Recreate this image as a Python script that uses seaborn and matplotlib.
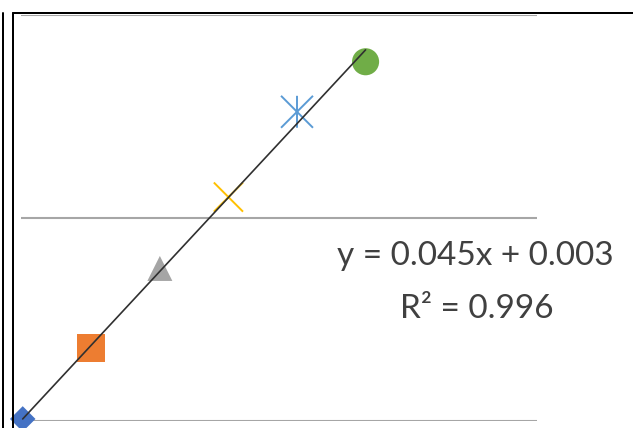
import numpy as np
import pandas as pd
import matplotlib
matplotlib.use("Agg")
import matplotlib.pyplot as plt
from matplotlib.lines import Line2D
from matplotlib.path import Path
import seaborn as sns

# Standards: concentration vs. absorbance
concentration = [0.0, 0.4, 0.8, 1.2, 1.6, 2.0]
absorbance = [0.003, 0.0203, 0.0397, 0.0571, 0.0779, 0.0901]
point_colors = ["#4472C4", "#ED7D31", "#A5A5A5", "#FFC000", "#5B9BD5", "#70AD47"]

# Linear trendline as stated in the label
slope = 0.045
intercept = 0.003
r_squared = 0.996
equation_lines = [f"y = {slope:.3f}x + {intercept:.3f}", f"R\u00b2 = {r_squared:.3f}"]

# Excel-style line markers: a plain X, and an asterisk (vertical bar plus an X)
cross = Path(
    [(-1, -1), (1, 1), (-1, 1), (1, -1)],
    [Path.MOVETO, Path.LINETO, Path.MOVETO, Path.LINETO],
)
asterisk = Path(
    [(0, -1), (0, 1), (-1, -1), (1, 1), (-1, 1), (1, -1)],
    [Path.MOVETO, Path.LINETO, Path.MOVETO, Path.LINETO, Path.MOVETO, Path.LINETO],
)
markers = ["D", "s", "^", cross, asterisk, "o"]
marker_sizes = [13, 20, 18, 21, 23, 19.5]
line_markers = [False, False, False, True, True, False]

sns.set_theme(style="white")

W, H = 633, 428
fig = plt.figure(figsize=(W / 100, H / 100), dpi=100)
ax = fig.add_axes([21 / W, (H - 421) / H, (537 - 21) / W, (421 - 15) / H])

df = pd.DataFrame({"concentration": concentration, "absorbance": absorbance})

for i, row in df.iterrows():
    if line_markers[i]:
        sns.scatterplot(x=[row.concentration], y=[row.absorbance], ax=ax,
                        marker=markers[i], s=marker_sizes[i] ** 2,
                        color=point_colors[i], facecolor="none",
                        edgecolor=point_colors[i], linewidth=1.4, zorder=3,
                        clip_on=False, legend=False)
    else:
        sns.scatterplot(x=[row.concentration], y=[row.absorbance], ax=ax,
                        marker=markers[i], s=marker_sizes[i] ** 2,
                        color=point_colors[i], edgecolor="none", linewidth=0,
                        zorder=3, clip_on=False, legend=False)

trend_x = np.array([min(concentration), max(concentration)])
trend_y = slope * trend_x + intercept
sns.lineplot(x=trend_x, y=trend_y, ax=ax, color="#303030", linewidth=1.2,
             zorder=4, legend=False)

y_min, y_max = 0.0025, 0.1015
ax.set_xlim(-0.01, 3.0)
ax.set_ylim(y_min, y_max)
ax.set_yticks(np.linspace(y_min, y_max, 3))
ax.set_xticks([])
ax.tick_params(left=False, bottom=False, labelleft=False, labelbottom=False)
ax.yaxis.grid(True, color="#A6A6A6", linewidth=1.5)
ax.xaxis.grid(False)
for sp in ax.spines.values():
    sp.set_visible(False)
ax.set_xlabel("")
ax.set_ylabel("")

ax.text(2.64, 0.0427, equation_lines[0], ha="center", va="center",
        fontsize=24, family="Lato", color="#404040")
ax.text(2.65, 0.0297, equation_lines[1], ha="center", va="center",
        fontsize=24, family="Lato", color="#404040")

# Frame lines around the chart
lw = 2 * 72 / 100
top = 1 - 12.5 / H
fig.add_artist(Line2D([3 / W, 3 / W], [0, top], transform=fig.transFigure,
                      color="black", linewidth=lw))
fig.add_artist(Line2D([13 / W, 13 / W], [0, top], transform=fig.transFigure,
                      color="black", linewidth=lw))
fig.add_artist(Line2D([13 / W, 1], [top, top], transform=fig.transFigure,
                      color="black", linewidth=lw))

fig.savefig("out.png", dpi=100, facecolor="white")
